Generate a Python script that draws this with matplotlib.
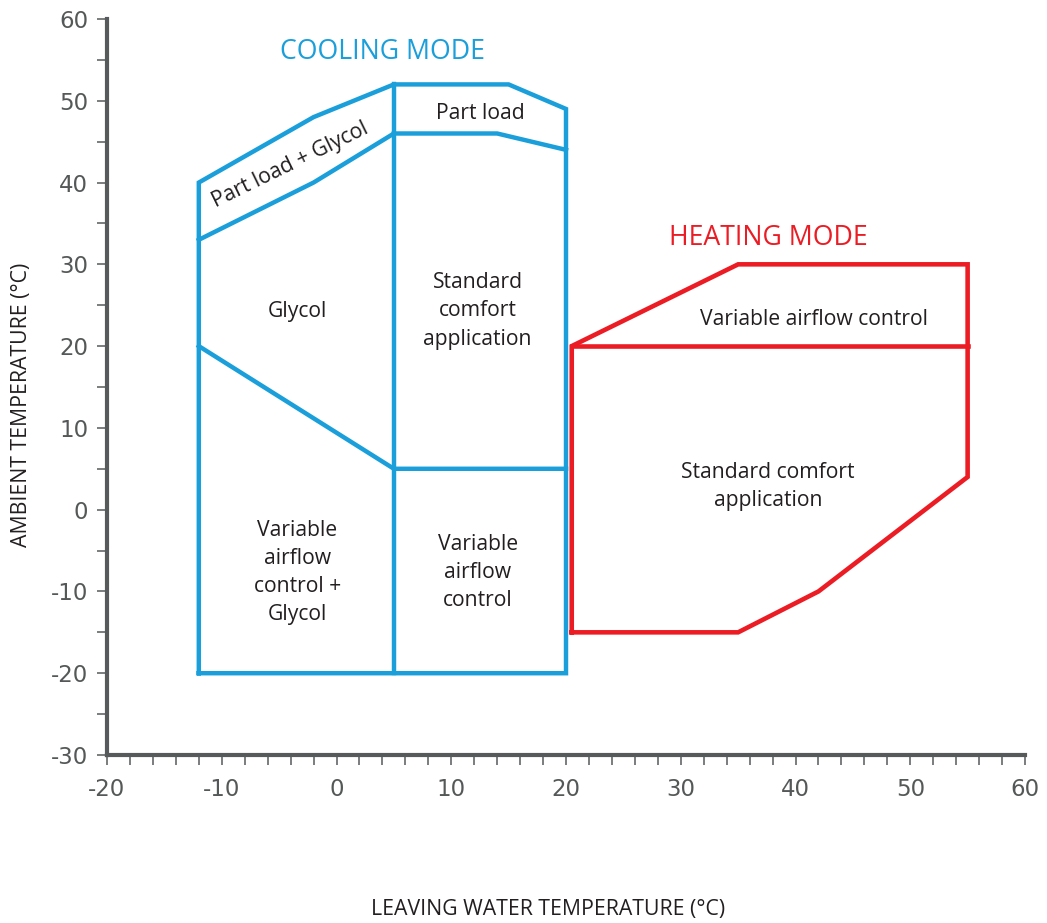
import matplotlib
matplotlib.use("Agg")
import matplotlib.pyplot as plt
from matplotlib.ticker import MultipleLocator

# ---- data ----
cool_outline_x = [-12, -12, -2, 5, 15, 20, 20, -12]
cool_outline_y = [-20, 40, 48, 52, 52, 49, -20, -20]
cool_divider_x = [5, 5]
cool_divider_y = [-20, 52]
partload_glycol_low_x = [-12, -2, 5]
partload_glycol_low_y = [33, 40, 46]
partload_low_x = [5, 14, 20]
partload_low_y = [46, 46, 44]
glycol_low_x = [-12, 5, 20]
glycol_low_y = [20, 5, 5]

heat_outline_x = [20.5, 35, 42, 55, 55, 35, 20.5, 20.5]
heat_outline_y = [-15, -15, -10, 4, 30, 30, 20, -15]
heat_divider_x = [20.5, 55]
heat_divider_y = [20, 20]

region_labels = [
    ("Part load + Glycol", -4.0, 42.2, 26),
    ("Part load", 12.5, 48.4, 0),
    ("Glycol", -3.4, 24.2, 0),
    ("Standard\ncomfort\napplication", 12.3, 24.3, 0),
    ("Variable\nairflow\ncontrol +\nGlycol", -3.4, -7.7, 0),
    ("Variable\nairflow\ncontrol", 12.3, -7.7, 0),
    ("Variable airflow control", 41.6, 23.2, 0),
    ("Standard comfort\napplication", 37.6, 2.8, 0),
]
mode_titles = [("COOLING MODE", 4.0, 56.0), ("HEATING MODE", 37.6, 33.2)]

x_ticklabels = [-20, -10, 0, 10, 20, 30, 40, 50, 60]
y_ticklabels = [-30, -20, -10, 0, 10, 20, 30, 40, 50, 60]

BLUE = "#1a9fdb"
RED = "#ec1c24"
GRAY = "#565a5a"
TXT = "#231f20"

fig = plt.figure(figsize=(10.47, 9.23), dpi=100)
ax = fig.add_axes([107/1047, 1-755/923, (1025-107)/1047, (755-19)/923])

lw_c = 3.2
lw_h = 3.3
ax.plot(cool_outline_x, cool_outline_y, color=BLUE, lw=lw_c, solid_joinstyle="miter", solid_capstyle="projecting")
for xs, ys in [(cool_divider_x, cool_divider_y), (partload_glycol_low_x, partload_glycol_low_y),
               (partload_low_x, partload_low_y), (glycol_low_x, glycol_low_y)]:
    ax.plot(xs, ys, color=BLUE, lw=lw_c, solid_joinstyle="miter")
ax.plot(heat_outline_x, heat_outline_y, color=RED, lw=lw_h, solid_joinstyle="miter", solid_capstyle="projecting")
ax.plot(heat_divider_x, heat_divider_y, color=RED, lw=lw_h)

fam = ["Open Sans", "DejaVu Sans"]
for t, x, y, r in region_labels:
    ax.text(x, y, t, ha="center", va="center", rotation=r, rotation_mode="anchor",
            fontsize=15.2, color=TXT, family=fam, linespacing=1.45)
ax.text(mode_titles[0][1], mode_titles[0][2], mode_titles[0][0], ha="center", va="center",
        fontsize=19.2, color=BLUE, family=fam)
ax.text(mode_titles[1][1], mode_titles[1][2], mode_titles[1][0], ha="center", va="center",
        fontsize=19.2, color=RED, family=fam)

ax.set_xlim(-20, 60)
ax.set_ylim(-30, 60)
ax.xaxis.set_minor_locator(MultipleLocator(2))
ax.yaxis.set_minor_locator(MultipleLocator(5))
ax.set_xticks(x_ticklabels)
ax.set_xticklabels([str(v) for v in x_ticklabels])
ax.set_yticks(y_ticklabels)
ax.set_yticklabels([str(v) for v in y_ticklabels])

for s in ["top", "right"]:
    ax.spines[s].set_visible(False)
for s in ["left", "bottom"]:
    ax.spines[s].set_color(GRAY)
    ax.spines[s].set_linewidth(3.0)
ax.tick_params(which="both", direction="out", length=7.5, width=1.1, color=GRAY)
ax.tick_params(axis="x", which="major", pad=9)
ax.tick_params(axis="y", which="major", pad=6)
for lab in ax.get_xticklabels() + ax.get_yticklabels():
    lab.set_fontsize(16.5)
    lab.set_color("#555858")
    lab.set_family(["DejaVu Sans"])

fig.text(548/1047, 1-910/923, "LEAVING WATER TEMPERATURE (°C)", ha="center", va="center",
         fontsize=15.3, color=TXT, family=fam)
fig.text(22/1047, 1-405/923, "AMBIENT TEMPERATURE (°C)", ha="center", va="center",
         rotation=90, fontsize=15.3, color=TXT, family=fam)

fig.savefig("out.png", dpi=100)
